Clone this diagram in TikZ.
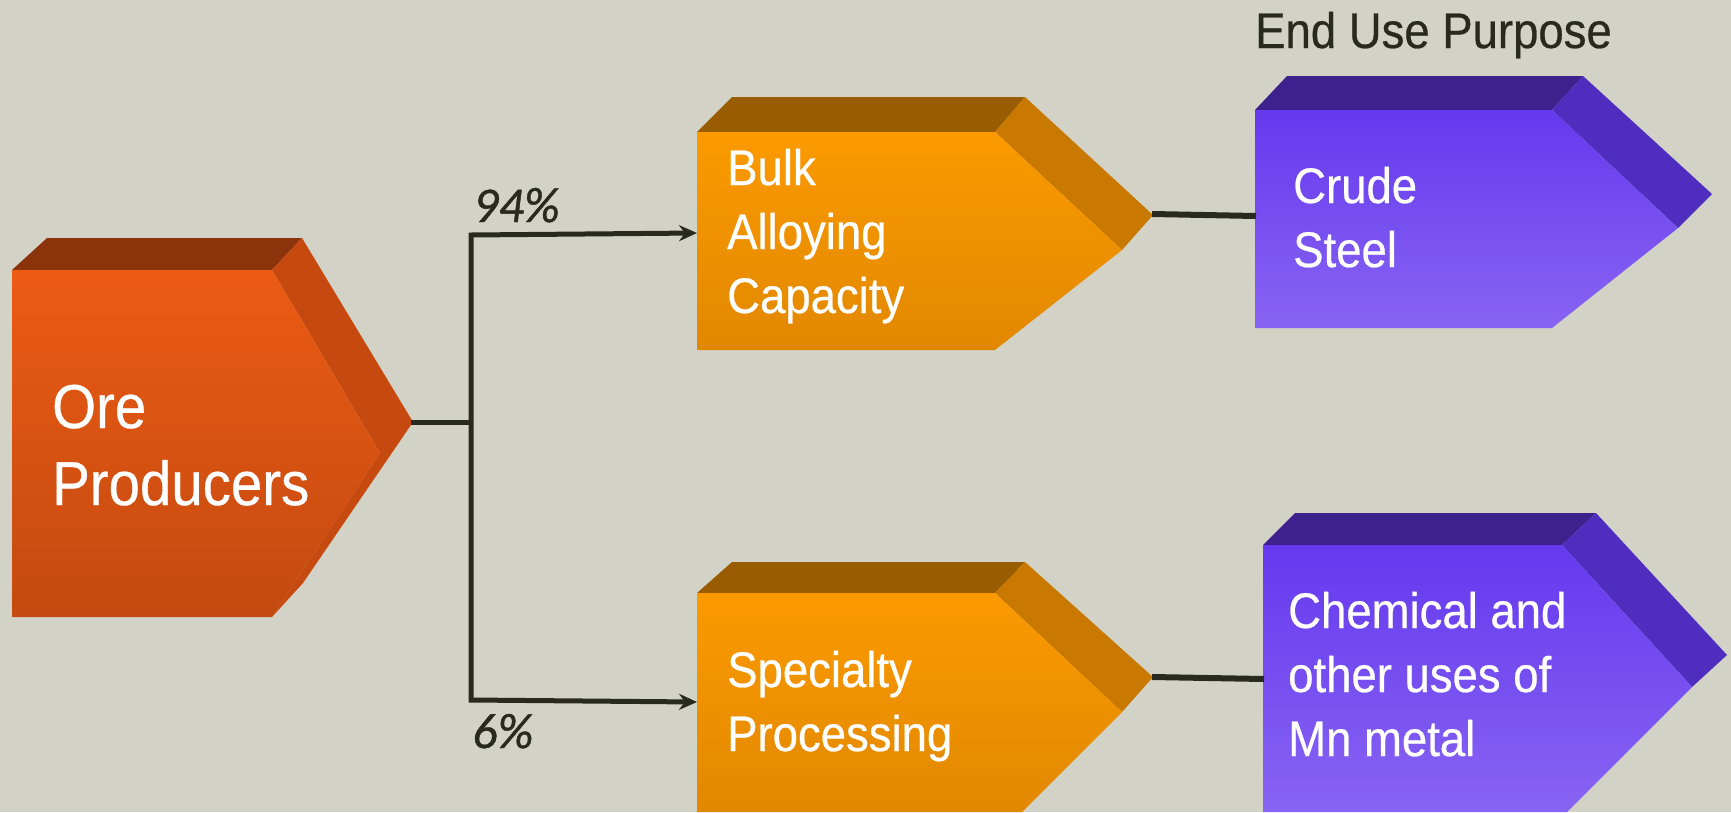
\documentclass[tikz,border=0pt]{standalone}
\usepackage{fontspec}
\setmainfont{Liberation Sans}[FakeStretch=0.91,FakeBold=0.5]
\newfontfamily\pctfont{Carlito}[FakeBold=0.8]
\usetikzlibrary{arrows.meta}
\definecolor{bg}{HTML}{D2D2C6}
\definecolor{ink}{HTML}{282A20}
\definecolor{oreT}{HTML}{EC5B14}
\definecolor{oreB}{HTML}{C34A10}
\definecolor{oreTop}{HTML}{8B330A}
\definecolor{oreSide}{HTML}{C64A0F}
\definecolor{orgT}{HTML}{FB9A00}
\definecolor{orgB}{HTML}{E28800}
\definecolor{orgTop}{HTML}{9A5C00}
\definecolor{orgSide}{HTML}{C97800}
\definecolor{purT}{HTML}{6539EE}
\definecolor{purB}{HTML}{8864F3}
\definecolor{purTop}{HTML}{3D228E}
\definecolor{purSide}{HTML}{4F2DBF}
\begin{document}
\begin{tikzpicture}[x=1pt,y=-1pt,
  boxtext/.style={text=white,anchor=base west,inner sep=0pt,align=left,
    font=\fontsize{50}{64}\selectfont},
  oretext/.style={text=white,anchor=base west,inner sep=0pt,align=left,
    font=\fontsize{62}{77}\selectfont},
  pct/.style={text=ink,anchor=base west,inner sep=0pt,
    font=\pctfont\itshape\fontsize{50}{50}\selectfont},
  conn/.style={draw=ink,line width=5pt,line join=miter},
  thick conn/.style={conn,line width=6pt},
  arr/.style={conn,-{Stealth[length=18pt,width=16pt,inset=6pt]}}
]
\fill[bg] (0,0) rectangle (1731,812);
\useasboundingbox (0,0) rectangle (1731,812);

% Ore Producers
\fill[oreTop] (12,270) -- (47,238) -- (302,238) -- (272,270) -- cycle;
\fill[oreSide] (272,270) -- (302,238) -- (413,422) -- (303,583) -- (272,617) -- (380,453) -- cycle;
\shade[top color=oreT,bottom color=oreB] (12,270) -- (272,270) -- (380,453) -- (272,617) -- (12,617) -- cycle;
\coordinate (oretip) at (411,422);
\node[oretext] (ore) at (52,505) {Ore\\Producers};

% Bulk Alloying Capacity
\fill[orgTop] (697,132) -- (732,97) -- (1025,97) -- (995,132) -- cycle;
\fill[orgSide] (995,132) -- (1025,97) -- (1153,215) -- (1122,250) -- cycle;
\shade[top color=orgT,bottom color=orgB] (697,132) -- (995,132) -- (1122,250) -- (995,350) -- (697,350) -- cycle;
\coordinate (bulkin) at (697,233);
\coordinate (bulktip) at (1152,214);
\node[boxtext] (bulk) at (727,313) {Bulk\\Alloying\\Capacity};

% Specialty Processing
\fill[orgTop] (697,593) -- (732,562) -- (1025,562) -- (995,593) -- cycle;
\fill[orgSide] (995,593) -- (1025,562) -- (1153,677) -- (1122,712) -- cycle;
\shade[top color=orgT,bottom color=orgB] (697,593) -- (995,593) -- (1122,712) -- (1022,812) -- (697,812) -- cycle;
\coordinate (specin) at (697,702);
\coordinate (spectip) at (1152,677);
\node[boxtext] (spec) at (727,751) {Specialty\\Processing};

% Crude Steel
\fill[purTop] (1255,110) -- (1287,76) -- (1583,76) -- (1552,110) -- cycle;
\fill[purSide] (1552,110) -- (1583,76) -- (1712,194) -- (1678,228) -- cycle;
\shade[top color=purT,bottom color=purB] (1255,110) -- (1552,110) -- (1678,228) -- (1552,328) -- (1255,328) -- cycle;
\coordinate (crudein) at (1256,216);
\node[boxtext] (crude) at (1293,267) {Crude\\Steel};

% Chemical and other uses
\fill[purTop] (1263,545) -- (1295,513) -- (1596,513) -- (1562,545) -- cycle;
\fill[purSide] (1562,545) -- (1596,513) -- (1727,655) -- (1692,687) -- cycle;
\shade[top color=purT,bottom color=purB] (1263,545) -- (1562,545) -- (1692,687) -- (1567,812) -- (1263,812) -- cycle;
\coordinate (chemin) at (1264,679);
\node[boxtext] (chem) at (1288,756) {Chemical and\\other uses of\\Mn metal};

% title
\node[text=ink,anchor=base west,inner sep=0pt,font=\fontsize{50}{60}\selectfont] (title) at (1255,48) {End Use Purpose};

% connectors
\coordinate (jmid) at (471,422);
\coordinate (jtop) at (471,235);
\coordinate (jbot) at (471,700);
\draw[conn] (oretip) -- (jmid);
\draw[arr] (jmid) -- (jtop) -- (bulkin);
\draw[arr] (jmid) -- (jbot) -- (specin);
\draw[thick conn] (bulktip) -- (crudein);
\draw[thick conn] (spectip) -- (chemin);

\node[pct] (p94) at (473,222) {94\%};
\node[pct] (p6) at (472,748) {6\%};
\end{tikzpicture}
\end{document}
